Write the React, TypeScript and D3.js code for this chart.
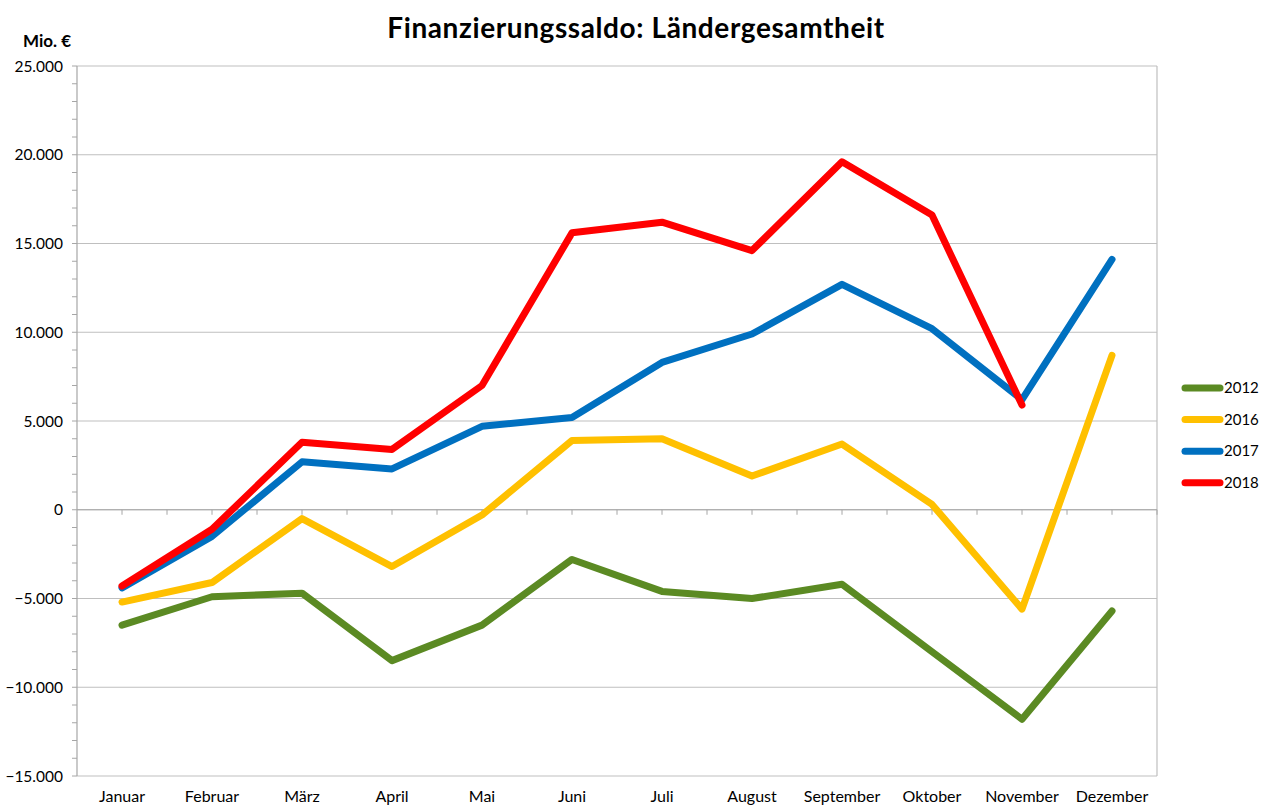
import React from "react";
import * as d3 from "d3";

const months = ["Januar", "Februar", "März", "April", "Mai", "Juni", "Juli", "August", "September", "Oktober", "November", "Dezember"];
const s2012 = [-6500, -4900, -4700, -8500, -6500, -2800, -4600, -5000, -4200, -8000, -11800, -5700];
const s2016 = [-5200, -4100, -500, -3200, -300, 3900, 4000, 1900, 3700, 300, -5600, 8700];
const s2017 = [-4400, -1500, 2700, 2300, 4700, 5200, 8300, 9900, 12700, 10200, 6200, 14100];
const s2018 = [-4300, -1100, 3800, 3400, 7000, 15600, 16200, 14600, 19600, 16600, 5900];
const seriesNames = ["2012", "2016", "2017", "2018"];
const seriesColors = ["#5b8a23", "#ffc000", "#0070c0", "#ff0000"];
const yTicks = [-15000, -10000, -5000, 0, 5000, 10000, 15000, 20000, 25000];

const W = 1268, H = 807;
const L = 77, R = 1157, T = 66, B = 776;
const FONT = "Lato, 'Open Sans', sans-serif";

export default function App() {
  const x = d3.scaleBand<string>().domain(months).range([L, R]);
  const y = d3.scaleLinear().domain([-15000, 25000]).range([B, T]);
  const fmt = (v: number) => d3.format(",")(v).replace(/,/g, ".");
  const allSeries = [s2012, s2016, s2017, s2018];
  const line = (vals: number[]) =>
    d3.line<number>().x((_, i) => (x(months[i]) as number) + x.bandwidth() / 2).y((v) => y(v))(vals) as string;
  const minorTicks = d3.range(-15000, 25001, 1000);
  const bw = x.bandwidth();
  const xTickPos: number[] = [];
  months.forEach((m) => {
    const s = x(m) as number;
    xTickPos.push(s + bw / 2);
    xTickPos.push(s + bw);
  });

  return (
    <svg width={W} height={H} style={{ position: "absolute", left: 0, top: 0, background: "#fff" }} fontFamily={FONT}>
      <text x={636} y={38} textAnchor="middle" fontSize={28} fontWeight="bold" letterSpacing={0.6} fill="#000">
        Finanzierungssaldo: Ländergesamtheit
      </text>
      <text x={23} y={47} fontSize={17} fontWeight="bold" fill="#000">Mio. €</text>
      {yTicks.map((t) => (
        <line key={"g" + t} x1={L} x2={R} y1={y(t)} y2={y(t)} stroke="#bfbfbf" strokeWidth={1.2} />
      ))}
      <line x1={R} x2={R} y1={T} y2={B} stroke="#bfbfbf" strokeWidth={1.2} />
      <line x1={L} x2={L} y1={T} y2={B} stroke="#a6a6a6" strokeWidth={1.2} />
      {minorTicks.map((t) => (
        <line key={"m" + t} x1={L - 5} x2={L} y1={y(t)} y2={y(t)} stroke="#a6a6a6" strokeWidth={1} />
      ))}
      <line x1={L} x2={R} y1={y(0)} y2={y(0)} stroke="#a6a6a6" strokeWidth={1.2} />
      {xTickPos.map((p, i) => (
        <line key={"xt" + i} x1={p} x2={p} y1={y(0)} y2={y(0) + 5} stroke="#a6a6a6" strokeWidth={1} />
      ))}
      {yTicks.map((t) => (
        <text key={"yl" + t} x={63} y={y(t) + 5.5} textAnchor="end" fontSize={15.5} fill="#000">
          {fmt(t)}
        </text>
      ))}
      {months.map((m) => (
        <text key={m} x={(x(m) as number) + bw / 2} y={802} textAnchor="middle" fontSize={16} fill="#000">
          {m}
        </text>
      ))}
      {allSeries.map((s, i) => (
        <path key={seriesNames[i]} d={line(s)} fill="none" stroke={seriesColors[i]} strokeWidth={7}
          strokeLinejoin="round" strokeLinecap="round" />
      ))}
      {seriesNames.map((n, i) => {
        const ly = 388 + i * 31.6;
        return (
          <g key={"lg" + n}>
            <line x1={1185} x2={1220} y1={ly} y2={ly} stroke={seriesColors[i]} strokeWidth={7} strokeLinecap="round" />
            <text x={1224} y={ly + 5} fontSize={15} fill="#000">{n}</text>
          </g>
        );
      })}
    </svg>
  );
}
